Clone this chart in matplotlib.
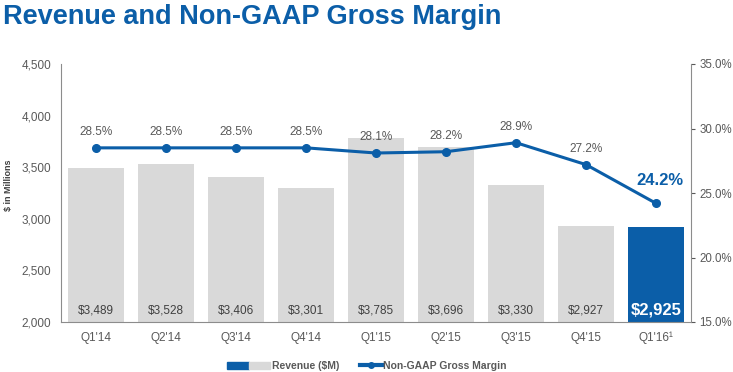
import matplotlib
matplotlib.use("Agg")
import matplotlib.pyplot as plt
from matplotlib.patches import Patch
from matplotlib.lines import Line2D
from matplotlib.legend_handler import HandlerTuple

plt.rcParams['font.family'] = ['Liberation Sans', 'DejaVu Sans']

quarters = ["Q1'14", "Q2'14", "Q3'14", "Q4'14", "Q1'15", "Q2'15", "Q3'15", "Q4'15", "Q1'16\u00b9"]
revenue = [3489, 3528, 3406, 3301, 3785, 3696, 3330, 2927, 2925]
margin = [28.5, 28.5, 28.5, 28.5, 28.1, 28.2, 28.9, 27.2, 24.2]
rev_labels = ["$3,489", "$3,528", "$3,406", "$3,301", "$3,785", "$3,696", "$3,330", "$2,927", "$2,925"]
margin_labels = ["28.5%", "28.5%", "28.5%", "28.5%", "28.1%", "28.2%", "28.9%", "27.2%", "24.2%"]
left_ticks = [2000, 2500, 3000, 3500, 4000, 4500]
right_ticks = [15, 20, 25, 30, 35]

BLUE = "#0B5EA8"
GRAY = "#D9D9D9"
TXT = "#595959"
SPINE = "#8C8C8C"

fig = plt.figure(figsize=(7.33, 3.72), dpi=100)
ax = fig.add_axes([61/733, 1-322/372, 630/733, 258/372])
x = list(range(len(quarters)))
colors = [GRAY]*(len(quarters)-1) + [BLUE]
ax.bar(x, [r - 2000 for r in revenue], bottom=2000, width=0.8, color=colors, zorder=1)
ax.set_xlim(-0.5, len(quarters)-0.5)
ax.set_ylim(2000, 4500)
ax.set_yticks(left_ticks)
ax.set_yticklabels([f"{v:,}" for v in left_ticks])
ax.set_xticks(x)
ax.set_xticklabels(quarters)
ax.tick_params(axis='y', length=0, labelsize=8.5, colors=TXT, pad=7)
ax.tick_params(axis='x', length=0, labelsize=8.5, colors=TXT, pad=7)
for s in ['top', 'right']:
    ax.spines[s].set_visible(False)
for s in ['left', 'bottom']:
    ax.spines[s].set_color(SPINE)
ax.set_ylabel("$ in Millions", fontsize=6.5, fontweight='bold', color="#404040")
ax.yaxis.set_label_coords(-48/630, 0.53)

for i, lab in enumerate(rev_labels):
    if i == len(rev_labels)-1:
        ax.text(i, 2040, lab, ha='center', va='bottom', fontsize=12, fontweight='bold', color='white', zorder=3)
    else:
        ax.text(i, 2055, lab, ha='center', va='bottom', fontsize=8.5, color="#404040", zorder=3)

ax2 = ax.twinx()
ax2.set_ylim(15, 35)
ax2.set_yticks(right_ticks)
ax2.set_yticklabels([f"{v:.1f}%" for v in right_ticks])
ax2.tick_params(axis='y', direction='out', length=3, labelsize=8.3, colors=TXT, pad=3)
for s in ['top', 'left', 'bottom']:
    ax2.spines[s].set_visible(False)
ax2.spines['right'].set_color(SPINE)
ax2.plot(x, margin, color=BLUE, lw=2.2, marker='o', ms=5.5, zorder=4)
for i, lab in enumerate(margin_labels):
    if i == len(margin_labels)-1:
        ax2.annotate(lab, (i, margin[i]), xytext=(3, 11), textcoords='offset points',
                     ha='center', va='bottom', fontsize=12, fontweight='bold', color=BLUE)
    else:
        ax2.annotate(lab, (i, margin[i]), xytext=(0, 7), textcoords='offset points',
                     ha='center', va='bottom', fontsize=8.5, color=TXT)

fig.text(3/733, 1-17/372, "Revenue and Non-GAAP Gross Margin", fontsize=19.5, fontweight='bold',
         color=BLUE, va='center', ha='left')

h_rev = (Patch(color=BLUE), Patch(color=GRAY))
h_line = Line2D([], [], color=BLUE, lw=3, marker='o', ms=4)
lg1 = fig.legend([h_rev], ["Revenue ($M)"],
                 handler_map={tuple: HandlerTuple(ndivide=None, pad=0)},
                 loc='center', bbox_to_anchor=(283/733, 1-366/372), frameon=False,
                 handlelength=4.2, handleheight=0.6, handletextpad=0.15,
                 prop={'weight': 'bold', 'size': 7.5})
lg2 = fig.legend([h_line], ["Non-GAAP Gross Margin"],
                 loc='center', bbox_to_anchor=(433/733, 1-366/372), frameon=False,
                 handlelength=2.1, handletextpad=0.1,
                 prop={'weight': 'bold', 'size': 7.5})
for lg in (lg1, lg2):
    for t in lg.get_texts():
        t.set_color(TXT)

fig.savefig("out.png", dpi=100)
